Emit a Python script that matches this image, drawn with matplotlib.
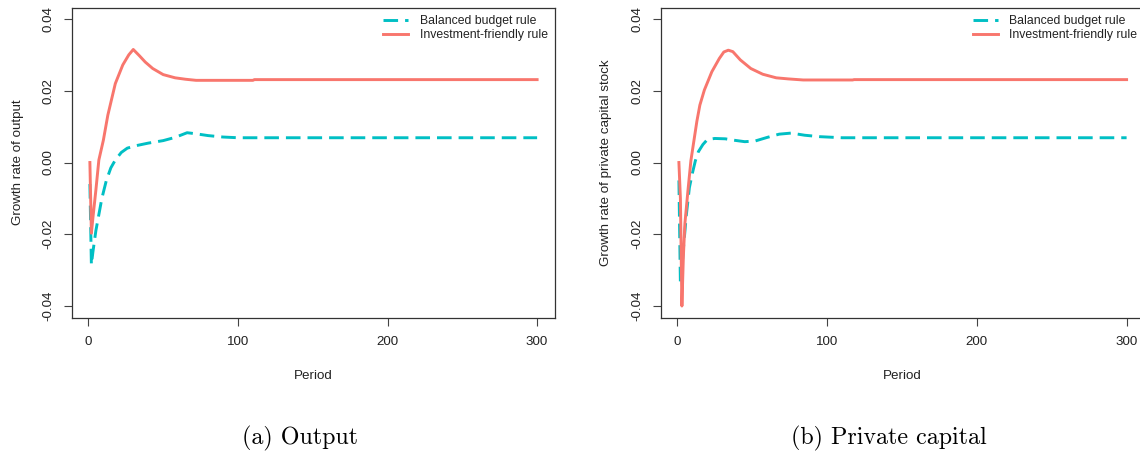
import matplotlib
matplotlib.use("Agg")
import matplotlib.pyplot as plt
from matplotlib.ticker import FixedLocator, FixedFormatter

plt.rcParams['font.family'] = ['Liberation Sans', 'DejaVu Sans']

# ---------------- data ----------------
# Panel (a): growth rate of output
out_bal_x = [1, 2, 3, 4, 5, 7, 9, 12, 15, 18, 22, 26, 32, 40, 50, 58, 66, 72, 80, 90, 100, 300]
out_bal_y = [-0.006, -0.0285, -0.025, -0.022, -0.019, -0.0145, -0.010, -0.005, -0.0015, 0.0007,
             0.0028, 0.0040, 0.0047, 0.0054, 0.0061, 0.0070, 0.0083, 0.0080, 0.0075, 0.0071, 0.0069, 0.0069]
out_inv_x = [1, 2, 3, 5, 7, 10, 13, 18, 23, 27, 30, 34, 38, 43, 50, 58, 65, 72, 110, 111, 300]
out_inv_y = [0.0, -0.0197, -0.0155, -0.0077, 0.0007, 0.0062, 0.0132, 0.0220, 0.0272, 0.0300, 0.0315,
             0.0298, 0.0280, 0.0262, 0.0245, 0.0236, 0.0232, 0.0229, 0.0229, 0.0231, 0.0231]

# Panel (b): growth rate of private capital stock
cap_bal_x = [1, 2, 3, 4, 6, 8, 10, 12, 14, 17, 20, 25, 32, 38, 45, 52, 60, 68, 76, 85, 95, 110, 300]
cap_bal_y = [-0.005, -0.034, -0.030, -0.024, -0.0145, -0.007, -0.003, 0.0005, 0.003, 0.0050, 0.0064,
             0.0067, 0.0066, 0.0062, 0.0058, 0.0060, 0.0070, 0.0079, 0.0082, 0.0076, 0.0072, 0.0069, 0.0069]
cap_inv_x = [1, 2, 3, 4, 5, 7, 9, 11, 13, 15, 18, 23, 28, 31, 34, 37, 42, 49, 57, 66, 74, 84, 117, 118, 300]
cap_inv_y = [0.0, -0.010, -0.040, -0.026, -0.017, -0.008, 0.0005, 0.006, 0.0115, 0.016, 0.0202, 0.0253,
             0.0290, 0.0308, 0.0313, 0.0309, 0.0286, 0.0262, 0.0246, 0.0236, 0.0233, 0.0230, 0.0230,
             0.0231, 0.0231]

x_ticks = [0, 100, 200, 300]
y_ticks = [-0.04, -0.02, 0.0, 0.02, 0.04]
y_tick_labels = ["-0.04", "-0.02", "0.00", "0.02", "0.04"]
series_labels = ["Balanced budget rule", "Investment-friendly rule"]
ylabels = ["Growth rate of output", "Growth rate of private capital stock"]
captions = ["(a) Output", "(b) Private capital"]

# ---------------- style ----------------
W, H = 1140, 454
TEAL = "#00BFC4"
RED = "#F8766D"
LW = 2.1

fig = plt.figure(figsize=(W / 100, H / 100), dpi=100)

def ax_rect(left, right, top, bottom):
    return [left / W, 1 - bottom / H, (right - left) / W, (bottom - top) / H]

panels = [
    dict(rect=ax_rect(72, 555, 7.5, 317.5), bx=out_bal_x, by=out_bal_y, ix=out_inv_x, iy=out_inv_y,
         ylab_x=18, cap_x=300, per_x=313.5),
    dict(rect=ax_rect(661, 1144.5, 7.5, 317.5), bx=cap_bal_x, by=cap_bal_y, ix=cap_inv_x, iy=cap_inv_y,
         ylab_x=606, cap_x=889, per_x=902.5),
]

for i, p in enumerate(panels):
    ax = fig.add_axes(p["rect"])
    ax.plot(p["bx"], p["by"], color=TEAL, lw=LW, dashes=(5, 2.4), label=series_labels[0])
    ax.plot(p["ix"], p["iy"], color=RED, lw=LW, label=series_labels[1])
    ax.set_xlim(-10.96, 311.96)
    ax.set_ylim(-0.0432, 0.0432)
    ax.xaxis.set_major_locator(FixedLocator(x_ticks))
    ax.yaxis.set_major_locator(FixedLocator(y_ticks))
    ax.yaxis.set_major_formatter(FixedFormatter(y_tick_labels))
    ax.tick_params(axis='both', direction='out', length=5.6, width=0.8, color='#444444',
                   labelsize=9.6, labelcolor='#222222')
    ax.tick_params(axis='x', pad=7.5)
    ax.tick_params(axis='y', pad=6.8)
    for t in ax.get_yticklabels():
        t.set_rotation(90)
        t.set_va('center')
    for s in ax.spines.values():
        s.set_color('#333333')
        s.set_linewidth(0.9)
    leg = ax.legend(loc='upper right', bbox_to_anchor=(1, 1), borderaxespad=0, frameon=False,
                    fontsize=8.8, handlelength=2.05, handletextpad=0.95, labelspacing=0.2,
                    borderpad=0.6)
    for t in leg.get_texts():
        t.set_color('#222222')
    fig.text(p["per_x"] / W, 1 - 376 / H, "Period", ha='center', va='center', fontsize=9.6,
             color='#222222')
    fig.text(p["ylab_x"] / W, 1 - 162.5 / H, ylabels[i], rotation=90, ha='center', va='center',
             fontsize=9.6, color='#222222')
    fig.text(p["cap_x"] / W, 1 - 438 / H, captions[i], ha='center', va='center', fontsize=17.3,
             family='cmr10', color='black')

fig.savefig("out.png", dpi=100)
